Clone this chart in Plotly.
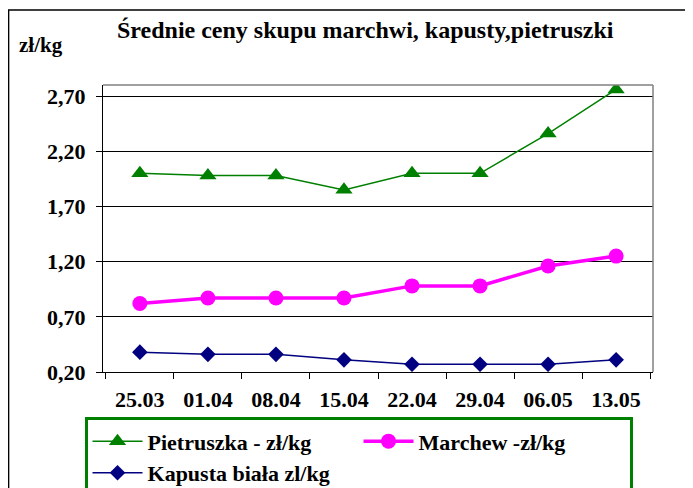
import plotly.graph_objects as go

dates = ["25.03", "01.04", "08.04", "15.04", "22.04", "29.04", "06.05", "13.05"]
pietruszka = [2.00, 1.98, 1.98, 1.85, 2.00, 2.00, 2.36, 2.76]
marchew = [0.82, 0.87, 0.87, 0.87, 0.98, 0.98, 1.16, 1.25]
kapusta = [0.38, 0.36, 0.36, 0.31, 0.27, 0.27, 0.27, 0.31]
ytick_vals = [0.2, 0.7, 1.2, 1.7, 2.2, 2.7]
ytick_text = ["0,20", "0,70", "1,20", "1,70", "2,20", "2,70"]

OFF = 8
W, H = 693, 488
L, T = 102.5 - OFF, 85 - OFF
R = W - (653 - OFF)
B = H - (371.7 - OFF)
pw, ph = W - L - R, H - T - B

def px_x(x):
    return (x - OFF - L) / pw

def px_y(y):
    return (H - B - (y - OFF)) / ph

def bold(s):
    return "<b>" + s + "</b>"

font_fam = "Liberation Serif"

fig = go.Figure()
fig.add_trace(go.Scatter(
    x=dates, y=pietruszka, name=bold("Pietruszka - zł/kg"), mode="lines+markers",
    line=dict(color="#008000", width=1.5),
    marker=dict(symbol="triangle-up", size=15, color="#008000")))
fig.add_trace(go.Scatter(
    x=dates, y=marchew, name=bold("Marchew -zł/kg"), mode="lines+markers",
    line=dict(color="#FF00FF", width=3.5),
    marker=dict(symbol="circle", size=15, color="#FF00FF")))
fig.add_trace(go.Scatter(
    x=dates, y=kapusta, name=bold("Kapusta biała zl/kg"), mode="lines+markers",
    line=dict(color="#000080", width=1.5),
    marker=dict(symbol="diamond", size=12, color="#000080")))

fig.update_layout(
    width=W, height=H,
    margin=dict(l=L, r=R, t=T, b=B, autoexpand=False),
    paper_bgcolor="white", plot_bgcolor="white",
    font=dict(family=font_fam, color="black", size=20),
    title=dict(text=bold("Średnie ceny skupu marchwi, kapusty,pietruszki"),
               x=px_x(365), xref="paper", xanchor="center",
               y=1 - (30 - OFF) / H, yanchor="middle", yref="container",
               font=dict(family=font_fam, size=24, color="black")),
    showlegend=True,
    legend=dict(orientation="h", x=px_x(84), xanchor="left",
                y=px_y(417), yanchor="top",
                bordercolor="#008000", borderwidth=3,
                font=dict(family=font_fam, size=22, color="black"),
                entrywidth=206, tracegroupgap=0, itemwidth=50),
)

fig.update_xaxes(
    type="category", showgrid=False, showline=True, linecolor="black", linewidth=1,
    ticks="outside", ticklen=6, tickcolor="black", tickson="boundaries",
    tickvals=dates, ticktext=[bold(d) for d in dates],
    tickfont=dict(family=font_fam, size=22, color="black"),
    ticklabelstandoff=8, mirror=False)
fig.update_yaxes(
    range=[0.2, 2.8], tickvals=ytick_vals, ticktext=[bold(t) for t in ytick_text],
    showgrid=True, gridcolor="black", gridwidth=1,
    showline=True, linecolor="black", linewidth=1,
    ticks="outside", ticklen=6, tickcolor="black",
    tickfont=dict(family=font_fam, size=22, color="black"),
    ticklabelstandoff=6, zeroline=False)

fig.add_shape(type="line", xref="paper", yref="paper", x0=0, x1=1, y0=1, y1=1,
              line=dict(color="#808080", width=1.5))
fig.add_shape(type="line", xref="paper", yref="paper", x0=1, x1=1, y0=0, y1=1,
              line=dict(color="#808080", width=1.5))
fig.add_shape(type="rect", xref="paper", yref="paper",
              x0=px_x(8), x1=px_x(720), y0=px_y(520), y1=px_y(10),
              line=dict(color="black", width=1.5), layer="below")

fig.add_annotation(text=bold("zł/kg"), xref="paper", yref="paper",
                   x=px_x(16), y=px_y(45), xanchor="left", yanchor="middle",
                   showarrow=False,
                   font=dict(family=font_fam, size=21, color="black"))

fig.write_html("out.html")
